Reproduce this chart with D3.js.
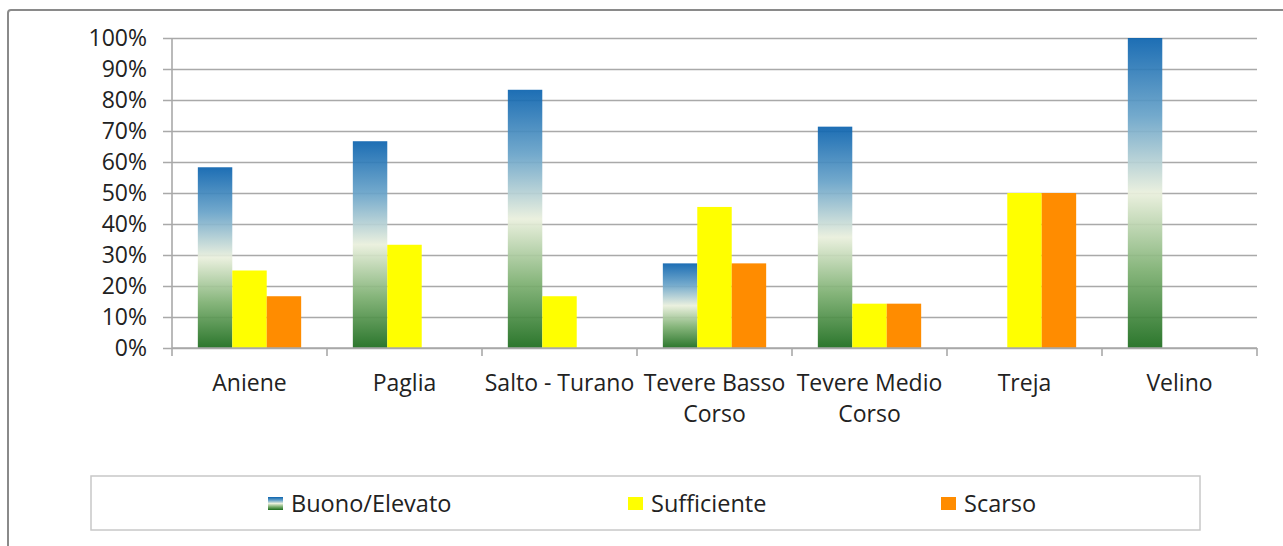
<!DOCTYPE html>
<html>
<head>
<meta charset="utf-8">
<script src="https://cdn.jsdelivr.net/npm/d3@7"></script>
<style>
  body { margin: 0; background: #fff; }
  text { font-family: "Open Sans", "Noto Sans", sans-serif; fill: #222; }
</style>
</head>
<body>
<div id="app"></div>
<script>
// categories and series
const categories = ["Aniene", "Paglia", "Salto - Turano", "Tevere Basso\nCorso", "Tevere Medio\nCorso", "Treja", "Velino"];
const seriesNames = ["Buono/Elevato", "Sufficiente", "Scarso"];
const buono = [0.583, 0.667, 0.833, 0.273, 0.714, 0, 1.0];
const sufficiente = [0.25, 0.333, 0.167, 0.455, 0.143, 0.5, 0];
const scarso = [0.167, 0, 0, 0.273, 0.143, 0.5, 0];
const yTicks = [0, 0.1, 0.2, 0.3, 0.4, 0.5, 0.6, 0.7, 0.8, 0.9, 1];

const w = 1283, h = 546;
const svg = d3.select("#app").append("svg")
  .attr("width", w)
  .attr("height", h);

// gradient for Buono/Elevato
const defs = svg.append("defs");
const grad = defs.append("linearGradient")
  .attr("id", "gBuono")
  .attr("x1", 0).attr("y1", 0).attr("x2", 0).attr("y2", 1);
grad.append("stop").attr("offset", "0%").attr("stop-color", "#0a62ae");
grad.append("stop").attr("offset", "25%").attr("stop-color", "#67a2c8");
grad.append("stop").attr("offset", "50%").attr("stop-color", "#e9efdc");
grad.append("stop").attr("offset", "75%").attr("stop-color", "#7caf70");
grad.append("stop").attr("offset", "100%").attr("stop-color", "#1a6b1b");

const fills = ["url(#gBuono)", "#ffff00", "#ff8c00"];

// outer frame
svg.append("rect")
  .attr("x", 8).attr("y", 10)
  .attr("width", 1300).attr("height", 560)
  .attr("rx", 3)
  .attr("fill", "none")
  .attr("stroke", "#8a8a8a")
  .attr("stroke-width", 2);

const x0 = d3.scaleBand()
  .domain(categories)
  .range([172, 1257])
  .paddingInner(0).paddingOuter(0);

const x1 = d3.scaleBand()
  .domain(seriesNames)
  .range([0, x0.bandwidth()])
  .paddingInner(0).paddingOuter(0.75);

const y = d3.scaleLinear().domain([0, 1]).range([348, 38]);

// y axis with gridlines
const yAxis = d3.axisLeft(y)
  .tickValues(yTicks)
  .tickSize(-(1257 - 163))
  .tickPadding(16)
  .tickFormat(d3.format(".0%"));

const gy = svg.append("g")
  .attr("transform", "translate(163,0)")
  .call(yAxis);
gy.select(".domain").remove();
gy.selectAll(".tick line")
  .attr("stroke", "#a9a9a9")
  .attr("stroke-width", 1.6);
gy.selectAll(".tick text")
  .attr("x", -16)
  .style("font-size", "23px")
  .style("font-family", "'Open Sans', sans-serif")
  .attr("fill", "#222");

// vertical axis line
svg.append("line")
  .attr("x1", 172).attr("x2", 172)
  .attr("y1", y(1)).attr("y2", y(0))
  .attr("stroke", "#a9a9a9").attr("stroke-width", 1.6);

// bars
const rows = categories.map((c, i) => ({ cat: c, vals: [buono[i], sufficiente[i], scarso[i]] }));

const groups = svg.selectAll(".grp")
  .data(rows)
  .enter().append("g")
  .attr("class", "grp")
  .attr("transform", d => "translate(" + x0(d.cat) + ",0)");

groups.selectAll("rect")
  .data(d => d.vals.map((v, k) => ({ v: v, k: k })).filter(e => e.v > 0))
  .enter().append("rect")
  .attr("x", d => x1(seriesNames[d.k]))
  .attr("width", x1.bandwidth())
  .attr("y", d => y(d.v))
  .attr("height", d => y(0) - y(d.v))
  .attr("fill", d => fills[d.k])
  .attr("fill-opacity", d => d.k === 0 ? 0.92 : 1);

// x baseline and ticks
svg.append("line")
  .attr("x1", 172).attr("x2", 1257)
  .attr("y1", y(0)).attr("y2", y(0))
  .attr("stroke", "#a9a9a9").attr("stroke-width", 1.6);

const bounds = categories.map(c => x0(c)).concat([x0.range()[1]]);
svg.selectAll(".xtick")
  .data(bounds)
  .enter().append("line")
  .attr("class", "xtick")
  .attr("x1", d => d).attr("x2", d => d)
  .attr("y1", y(0)).attr("y2", y(0) + 8)
  .attr("stroke", "#a9a9a9").attr("stroke-width", 1.6);

// category labels
const lbl = svg.selectAll(".xlabel")
  .data(categories)
  .enter().append("text")
  .attr("class", "xlabel")
  .attr("text-anchor", "middle")
  .style("font-size", "23px");
lbl.each(function (d) {
  const t = d3.select(this);
  d.split("\n").forEach((line, i) => {
    t.append("tspan")
      .attr("x", x0(d) + x0.bandwidth() / 2)
      .attr("y", 391 + i * 31)
      .text(line);
  });
});

// legend
svg.append("rect")
  .attr("x", 91).attr("y", 476)
  .attr("width", 1109).attr("height", 54)
  .attr("fill", "#fff")
  .attr("stroke", "#c8c8c8")
  .attr("stroke-width", 1.5);

const legX = [268, 628, 941];
const leg = svg.selectAll(".leg")
  .data(seriesNames)
  .enter().append("g")
  .attr("class", "leg")
  .attr("transform", (d, i) => "translate(" + legX[i] + ",497)");
leg.append("rect")
  .attr("width", 15).attr("height", 13)
  .attr("fill", (d, i) => fills[i]);
leg.append("text")
  .attr("x", 23).attr("y", 15)
  .style("font-size", "23.5px")
  .text(d => d);
</script>
</body>
</html>
